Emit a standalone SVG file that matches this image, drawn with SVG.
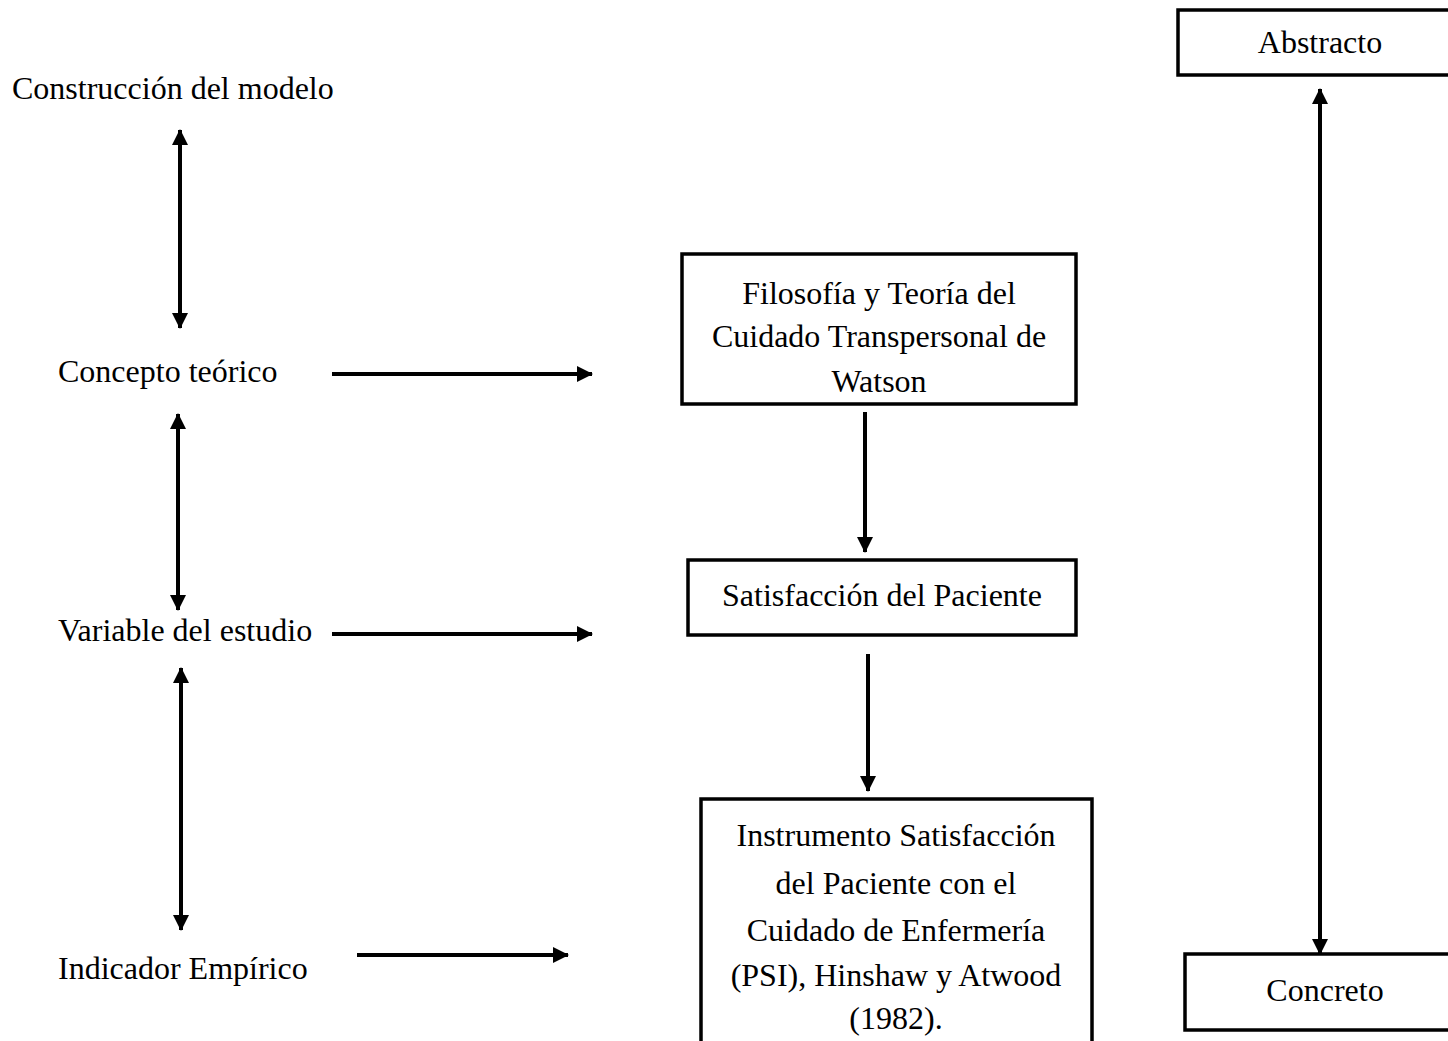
<svg xmlns="http://www.w3.org/2000/svg" width="1448" height="1041" viewBox="0 0 1448 1041">
<defs>
<marker id="ah" viewBox="0 0 16 16" refX="15" refY="8" markerWidth="16" markerHeight="16" markerUnits="userSpaceOnUse" orient="auto-start-reverse">
<path d="M0,0 L16,8 L0,16 Z" fill="#000"/>
</marker>
<style>
text{font-family:"Liberation Serif","Times New Roman",serif;font-size:32px;fill:#000}
.c{text-anchor:middle}
.box{fill:#fff;stroke:#000;stroke-width:3.5}
.ln{stroke:#000;stroke-width:4;fill:none}
</style>
</defs>
<rect width="1448" height="1041" fill="#fff"/>
<g id="connectors">
<line class="ln" x1="180" y1="130" x2="180" y2="328" marker-start="url(#ah)" marker-end="url(#ah)"/>
<line class="ln" x1="178" y1="414" x2="178" y2="610" marker-start="url(#ah)" marker-end="url(#ah)"/>
<line class="ln" x1="181" y1="668" x2="181" y2="930" marker-start="url(#ah)" marker-end="url(#ah)"/>
<line class="ln" x1="332" y1="374" x2="592" y2="374" marker-end="url(#ah)"/>
<line class="ln" x1="332" y1="634" x2="592" y2="634" marker-end="url(#ah)"/>
<line class="ln" x1="357" y1="955" x2="568" y2="955" marker-end="url(#ah)"/>
<line class="ln" x1="865" y1="412" x2="865" y2="552" marker-end="url(#ah)"/>
<line class="ln" x1="868" y1="654" x2="868" y2="791" marker-end="url(#ah)"/>
<line class="ln" x1="1320" y1="89" x2="1320" y2="954" marker-start="url(#ah)" marker-end="url(#ah)"/>
</g>
<g id="lbl-construccion"><text x="12" y="99">Construcción del modelo</text></g>
<g id="lbl-concepto"><text x="58" y="382">Concepto teórico</text></g>
<g id="lbl-variable"><text x="58" y="641">Variable del estudio</text></g>
<g id="lbl-indicador"><text x="58" y="979">Indicador Empírico</text></g>
<g id="node-filosofia">
<rect class="box" x="682" y="254" width="394" height="150"/>
<text class="c" x="879" y="304">Filosofía y Teoría del</text>
<text class="c" x="879" y="347">Cuidado Transpersonal de</text>
<text class="c" x="879" y="392">Watson</text>
</g>
<g id="node-satisfaccion">
<rect class="box" x="688" y="560" width="388" height="75"/>
<text class="c" x="882" y="606">Satisfacción del Paciente</text>
</g>
<g id="node-instrumento">
<rect class="box" x="701" y="799" width="391" height="260"/>
<text class="c" x="896" y="846">Instrumento Satisfacción</text>
<text class="c" x="896" y="894">del Paciente con el</text>
<text class="c" x="896" y="941">Cuidado de Enfermería</text>
<text class="c" x="896" y="986">(PSI), Hinshaw y Atwood</text>
<text class="c" x="896" y="1029">(1982).</text>
</g>
<g id="node-abstracto">
<rect class="box" x="1178" y="10" width="290" height="65"/>
<text class="c" x="1320" y="53">Abstracto</text>
</g>
<g id="node-concreto">
<rect class="box" x="1185" y="954" width="290" height="76"/>
<text class="c" x="1325" y="1001">Concreto</text>
</g>
</svg>
